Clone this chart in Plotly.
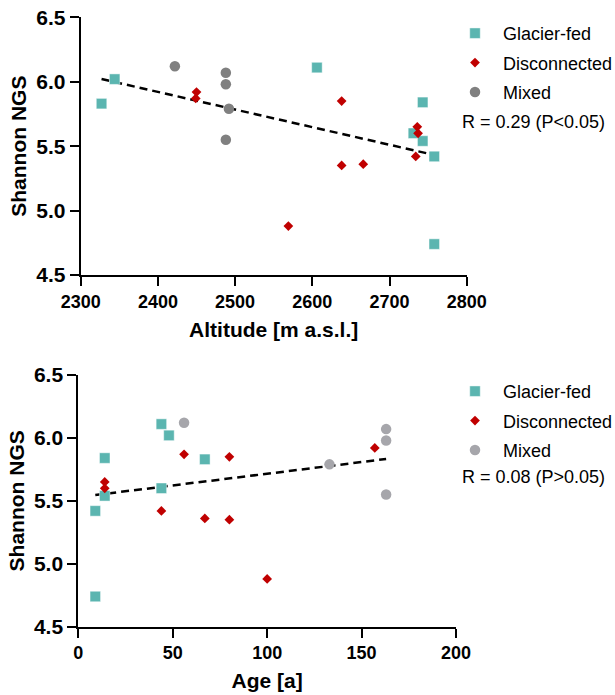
import numpy as np
import plotly.graph_objects as go

# ---- Data: altitude panel ----
alt_glacier = [2327, 2344, 2606, 2743, 2731, 2743, 2758, 2758]
ngs_glacier_alt = [5.83, 6.02, 6.11, 5.84, 5.60, 5.54, 5.42, 4.74]
alt_disconnected = [2450, 2449, 2638, 2569, 2638, 2666, 2736, 2737, 2734]
ngs_disconnected_alt = [5.92, 5.87, 5.85, 4.88, 5.35, 5.36, 5.65, 5.60, 5.42]
alt_mixed = [2422, 2488, 2488, 2492, 2488]
ngs_mixed_alt = [6.12, 6.07, 5.98, 5.79, 5.55]

# ---- Data: age panel ----
age_glacier = [9, 9, 14, 14, 44, 44, 48, 67]
ngs_glacier_age = [5.42, 4.74, 5.84, 5.54, 6.11, 5.60, 6.02, 5.83]
age_disconnected = [14, 14, 44, 56, 67, 80, 80, 100, 157]
ngs_disconnected_age = [5.65, 5.60, 5.42, 5.87, 5.36, 5.85, 5.35, 4.88, 5.92]
age_mixed = [56, 163, 163, 133, 163]
ngs_mixed_age = [6.12, 6.07, 5.98, 5.79, 5.55]

group_names = ["Glacier-fed", "Disconnected", "Mixed"]
stat_top = "R = 0.29 (P<0.05)"
stat_bottom = "R = 0.08 (P>0.05)"

TEAL = "#5BB5B0"
RED = "#C00000"
GRAY_TOP = "#808080"
GRAY_BOT = "#A6A6AB"
FONT = "Liberation Sans, Arial, sans-serif"

fig = go.Figure()


def add_panel(xs, ys, xa, ya, legend, gray):
    colors = [TEAL, RED, gray]
    symbols = ["square", "diamond", "circle"]
    sizes = [10.5, 7.5, 10.5]
    # regression line from all points
    allx = np.concatenate([np.array(v, float) for v in xs])
    ally = np.concatenate([np.array(v, float) for v in ys])
    k, b = np.polyfit(allx, ally, 1)
    lx = np.array([allx.min(), allx.max()])
    fig.add_trace(go.Scatter(x=lx, y=k * lx + b, mode="lines", xaxis=xa, yaxis=ya,
                             line=dict(color="black", width=2.5, dash="8px,5px"),
                             showlegend=False, hoverinfo="skip"))
    for i in range(3):
        fig.add_trace(go.Scatter(
            x=xs[i], y=ys[i], mode="markers", name=group_names[i],
            xaxis=xa, yaxis=ya, legend=legend, legendgroup=legend + str(i),
            marker=dict(color=colors[i], symbol=symbols[i], size=sizes[i],
                        line=dict(color="rgba(255,255,255,0.45)", width=1 if i == 0 else 0)),
            cliponaxis=False))


add_panel([alt_glacier, alt_disconnected, alt_mixed],
          [ngs_glacier_alt, ngs_disconnected_alt, ngs_mixed_alt], "x", "y", "legend", GRAY_TOP)
add_panel([age_glacier, age_disconnected, age_mixed],
          [ngs_glacier_age, ngs_disconnected_age, ngs_mixed_age], "x2", "y2", "legend2", GRAY_BOT)

W, H = 615, 695

axis_common = dict(showline=True, linecolor="black", linewidth=2, ticks="outside",
                   tickwidth=2, ticklen=9, tickcolor="black", showgrid=False,
                   zeroline=False, automargin=False,
                   tickfont=dict(family=FONT, size=18, color="black", weight="bold"))

yaxis_common = dict(axis_common)
yaxis_common.update(range=[4.5, 6.5], dtick=0.5, tick0=4.5, tickformat=".1f",
                    tickfont=dict(family=FONT, size=21, color="black", weight="bold"))

fig.update_layout(
    width=W, height=H, margin=dict(l=0, r=0, t=0, b=0, autoexpand=False),
    paper_bgcolor="white", plot_bgcolor="white",
    font=dict(family=FONT, color="black"),
    xaxis=dict(axis_common, domain=[80.7 / W, 466.7 / W], anchor="y",
               range=[2300, 2800], dtick=100, tick0=2300,
               title=dict(text="Altitude [m a.s.l.]", standoff=12,
                          font=dict(family=FONT, size=21, weight="bold"))),
    yaxis=dict(yaxis_common, domain=[1 - 275 / H, 1 - 17.3 / H], anchor="x",
               title=dict(text="Shannon NGS", standoff=4,
                          font=dict(family=FONT, size=21, weight="bold"))),
    xaxis2=dict(axis_common, domain=[78.3 / W, 456 / W], anchor="y2",
                range=[0, 200], dtick=50, tick0=0,
                title=dict(text="Age [a]", standoff=11,
                           font=dict(family=FONT, size=21, weight="bold"))),
    yaxis2=dict(yaxis_common, domain=[1 - 626.7 / H, 1 - 375 / H], anchor="x2",
                title=dict(text="Shannon NGS", standoff=4,
                           font=dict(family=FONT, size=21, weight="bold"))),
    legend=dict(x=447 / W, y=1 - 15 / H, xanchor="left", yanchor="top",
                font=dict(family=FONT, size=18, color="black"),
                tracegroupgap=3, traceorder="grouped", bgcolor="rgba(0,0,0,0)",
                itemwidth=46),
    legend2=dict(x=447 / W, y=1 - 373 / H, xanchor="left", yanchor="top",
                 font=dict(family=FONT, size=18, color="black"),
                 tracegroupgap=3, traceorder="grouped", bgcolor="rgba(0,0,0,0)",
                 itemwidth=46),
    annotations=[
        dict(text=stat_top, x=460 / W, y=1 - 122 / H, xref="paper", yref="paper",
             xanchor="left", yanchor="middle", showarrow=False,
             font=dict(family=FONT, size=18, color="black")),
        dict(text=stat_bottom, x=460 / W, y=1 - 477 / H, xref="paper", yref="paper",
             xanchor="left", yanchor="middle", showarrow=False,
             font=dict(family=FONT, size=18, color="black")),
    ],
)

fig.write_html("out.html")
